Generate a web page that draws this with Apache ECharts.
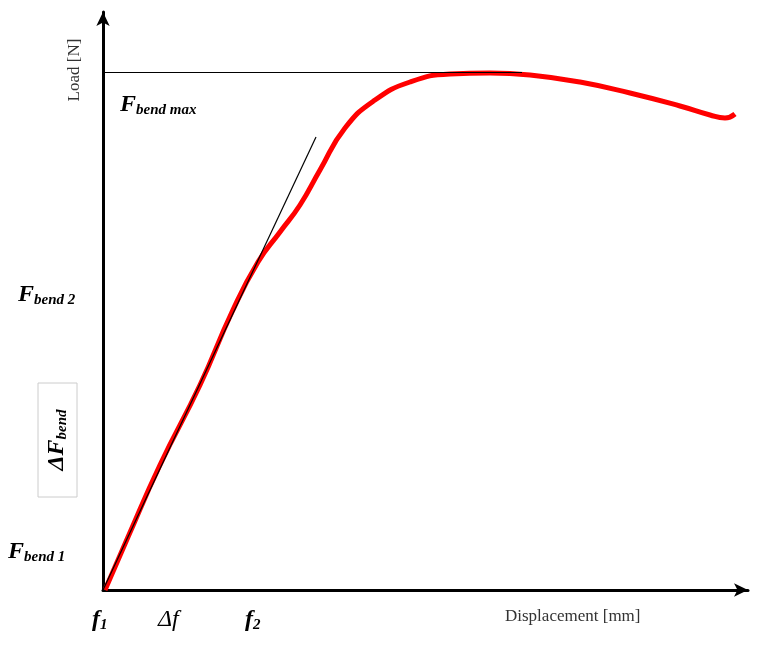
<!DOCTYPE html><html><head><meta charset="utf-8"><script src="https://cdn.jsdelivr.net/npm/echarts@6/dist/echarts.min.js"></script></head><body style="margin:0"><div id="c" style="width:762px;height:650px"></div><script>
const curveX=[2,25,57,97,129,155,177,197,217,242,272,307,347,387,427,477,527,577,607,622,632];
const curveY=[0,53,125,205,278,328,358,385,420,462,490,508,516,517,515,508,497,484,475,472,476];
const tangentX=[0,213], tangentY=[0,453];
const fMax=518, fBend2=278, fBend1=53, f1=25, f2=129;
const ch=echarts.init(document.getElementById('c'));
const L=(a,b,s1,s2)=>[{coord:a,symbol:s1||'none'},{coord:b,symbol:s2||'none'}];
ch.setOption({animation:false,
grid:{left:103,right:14,top:12,bottom:60},
xAxis:{type:'value',min:0,max:645,splitLine:{show:false},axisTick:{show:false},axisLabel:{show:false},
 axisLine:{lineStyle:{color:'#000',width:3},symbol:['none','arrow'],symbolSize:[10,14]}},
yAxis:{type:'value',min:0,max:578,splitLine:{show:false},axisTick:{show:false},axisLabel:{show:false},
 axisLine:{lineStyle:{color:'#000',width:3},symbol:['none','arrow'],symbolSize:[10,14]}},
series:[
{type:'line',data:curveX.map((x,i)=>[x,curveY[i]]),smooth:true,symbol:'none',lineStyle:{color:'#ff0000',width:5},z:3},
{type:'line',data:tangentX.map((x,i)=>[x,tangentY[i]]),symbol:'none',lineStyle:{color:'#000',width:1.2},z:4,clip:false,
 markLine:{silent:true,symbolSize:[8,12],label:{show:false},lineStyle:{color:'#000',width:1.2,type:'solid'},
 data:[L([0,fMax],[419,fMax]),L([-63,fBend2],[141,fBend2]),L([-63,fBend1],[40,fBend1]),
 L([f2,298],[f2,-50]),L([f1,68],[f1,-50]),L([f1,-45],[f2,-45],'arrow','arrow'),
 L([-40,207],[-40,fBend2],'none','arrow'),L([-40,93],[-40,fBend1],'none','arrow')]}}
]});
const P=(x,y)=>ch.convertToPixel({gridIndex:0},[x,y]);
const ser='"Liberation Serif","DejaVu Serif",serif';
const lab=(x,y,main,sub,size)=>{const p=P(x,y);return {type:'text',x:p[0],y:p[1],style:{text:'{a|'+main+'}{b|'+sub+'}',rich:{a:{fontFamily:ser,fontStyle:'italic',fontWeight:'bold',fontSize:size||24,fill:'#000'},b:{fontFamily:ser,fontStyle:'italic',fontWeight:'bold',fontSize:15,fill:'#000',padding:[10,0,0,0]}},verticalAlign:'middle'}}};
ch.setOption({graphic:[
lab(17,485,'F','bend max'),lab(-85,295,'F','bend 2'),lab(-95,38,'F','bend 1'),
lab(-11,-30,'f','1'),lab(142,-30,'f','2'),
{type:'text',x:P(55,-30)[0],y:P(55,-30)[1],style:{text:'Δf',fontFamily:ser,fontStyle:'italic',fontSize:24,fill:'#000',verticalAlign:'middle'}},
{type:'rect',shape:{x:38,y:383,width:39,height:114},style:{fill:'#fff',stroke:'#ccc',lineWidth:1}},
{type:'text',x:57,y:440,rotation:Math.PI/2,style:{text:'{a|ΔF}{b|bend}',align:'center',verticalAlign:'middle',rich:{a:{fontFamily:ser,fontStyle:'italic',fontWeight:'bold',fontSize:24,fill:'#000'},b:{fontFamily:ser,fontStyle:'italic',fontWeight:'bold',fontSize:15,fill:'#000',padding:[10,0,0,0]}}}},
{type:'text',x:75,y:70,rotation:Math.PI/2,style:{text:'Load [N]',fontFamily:ser,fontSize:17,fill:'#333',align:'center',verticalAlign:'middle'}},
{type:'text',x:505,y:617,style:{text:'Displacement [mm]',fontFamily:ser,fontSize:17,fill:'#333',verticalAlign:'middle'}}
]});
</script></body></html>
